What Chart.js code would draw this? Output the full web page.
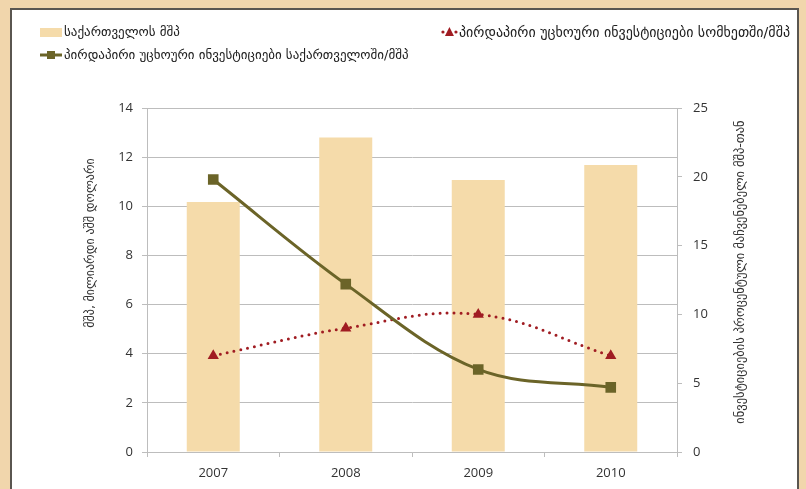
<!DOCTYPE html>
<html>
<head>
<meta charset="utf-8">
<script src="https://cdn.jsdelivr.net/npm/chart.js@4/dist/chart.umd.min.js"></script>
<style>
  html, body { margin: 0; padding: 0; width: 806px; height: 489px; overflow: hidden; background: #F1D6AC; }
  #frame { position: absolute; left: 10px; top: 8px; width: 785px; height: 520px; background: #fff;
           border-left: 2px solid #5a5650; border-top: 2px solid #5a5650; border-right: 2px solid #5a5650; }
  #wrap { position: absolute; left: 0; top: 0; width: 806px; height: 489px; }
</style>
</head>
<body>
<div id="frame"></div>
<div id="wrap"><canvas id="c" width="806" height="489"></canvas></div>
<script>
const years = ['2007', '2008', '2009', '2010'];
const gdpGeorgia = [10.17, 12.8, 11.07, 11.68];
const fdiArmenia = [7.0, 9.0, 10.0, 7.0];
const fdiGeorgia = [19.8, 12.2, 6.0, 4.7];

const labelGdp = 'საქართველოს მშპ';
const labelArm = 'პირდაპირი უცხოური ინვესტიციები სომხეთში/მშპ';
const labelGeo = 'პირდაპირი უცხოური ინვესტიციები საქართველოში/მშპ';
const titleLeft = 'მშპ, მილიარდი აშშ დოლარი';
const titleRight = 'ინვესტიციების პროცენტული მაჩვენებელი მშპ-თან';

const BAR = '#F5DBAA';
const OLIVE = '#6B6428';
const RED = '#A01C22';
const GRID = '#BDBDBD';
const GEO_FONT = '"DejaVu Sans", sans-serif';

const overlay = {
  id: 'overlay',
  afterDraw(chart) {
    const ctx = chart.ctx;
    ctx.save();
    ctx.fillStyle = '#222';
    ctx.textBaseline = 'middle';
    ctx.font = '13px ' + GEO_FONT;
    // legend item 1
    ctx.fillStyle = BAR;
    ctx.fillRect(40, 28, 22, 9);
    ctx.fillStyle = '#222';
    ctx.textAlign = 'left';
    ctx.fillText(labelGdp, 64, 33);
    // legend item 3
    ctx.strokeStyle = OLIVE; ctx.lineWidth = 3;
    ctx.beginPath(); ctx.moveTo(40, 55); ctx.lineTo(62, 55); ctx.stroke();
    ctx.fillStyle = OLIVE; ctx.fillRect(47, 51, 8, 8);
    ctx.fillStyle = '#222';
    ctx.fillText(labelGeo, 64, 56);
    // legend item 2 (right aligned)
    ctx.font = '14px ' + GEO_FONT;
    const w = ctx.measureText(labelArm).width;
    const x0 = 790 - w;
    ctx.fillText(labelArm, x0, 33);
    ctx.fillStyle = RED;
    [x0 - 16, x0 - 3].forEach(x => { ctx.beginPath(); ctx.arc(x, 32, 1.6, 0, Math.PI * 2); ctx.fill(); });
    ctx.beginPath(); ctx.moveTo(x0 - 9.5, 27); ctx.lineTo(x0 - 5, 36); ctx.lineTo(x0 - 14, 36); ctx.closePath(); ctx.fill();
    // axis titles
    ctx.fillStyle = '#333';
    ctx.textAlign = 'center';
    ctx.font = '12px ' + GEO_FONT;
    ctx.save(); ctx.translate(91, 243); ctx.rotate(-Math.PI / 2); ctx.fillText(titleLeft, 0, 0); ctx.restore();
    ctx.font = '12.5px ' + GEO_FONT;
    ctx.save(); ctx.translate(741, 272); ctx.rotate(-Math.PI / 2); ctx.fillText(titleRight, 0, 0); ctx.restore();
    ctx.restore();
  }
};

new Chart(document.getElementById('c'), {
  data: {
    labels: years,
    datasets: [
      { type: 'line', label: labelArm, data: fdiArmenia, yAxisID: 'y1', order: 1,
        borderColor: RED, backgroundColor: RED, borderWidth: 3, borderDash: [0, 7], borderCapStyle: 'round',
        tension: 0.4, pointStyle: 'triangle', pointRadius: 6.5, pointBackgroundColor: RED, pointBorderWidth: 0 },
      { type: 'line', label: labelGeo, data: fdiGeorgia, yAxisID: 'y1', order: 0,
        borderColor: OLIVE, backgroundColor: OLIVE, borderWidth: 3, tension: 0.35,
        pointStyle: 'rect', pointRadius: 7.5, pointBackgroundColor: OLIVE, pointBorderWidth: 0 },
      { type: 'bar', label: labelGdp, data: gdpGeorgia, yAxisID: 'y', order: 2,
        backgroundColor: BAR, barPercentage: 0.4, categoryPercentage: 1 }
    ]
  },
  options: {
    responsive: false,
    animation: false,
    layout: { padding: { top: 108, left: 0, right: 0, bottom: 0 } },
    plugins: { legend: { display: false }, tooltip: { enabled: false } },
    scales: {
      x: {
        offset: true,
        grid: { offset: true, drawOnChartArea: false, color: GRID, tickLength: 5 },
        border: { color: GRID, width: 1 },
        ticks: { color: '#333', font: { family: '"Open Sans"', size: 13 }, padding: 8 },
        afterFit(s) { s.height = 37; }
      },
      y: {
        position: 'left', min: 0, max: 14,
        grid: { color: GRID, tickLength: 5, lineWidth: 1 },
        border: { color: GRID, width: 1 },
        ticks: { stepSize: 2, color: '#333', font: { family: '"Open Sans"', size: 13 }, padding: 9 },
        afterFit(s) { s.width = 147; }
      },
      y1: {
        position: 'right', min: 0, max: 25,
        grid: { drawOnChartArea: false, color: GRID, tickLength: 5 },
        border: { color: GRID, width: 1 },
        ticks: { stepSize: 5, color: '#333', font: { family: '"Open Sans"', size: 13 }, padding: 11 },
        afterFit(s) { s.width = 129; }
      }
    }
  },
  plugins: [overlay]
});
</script>
</body>
</html>
